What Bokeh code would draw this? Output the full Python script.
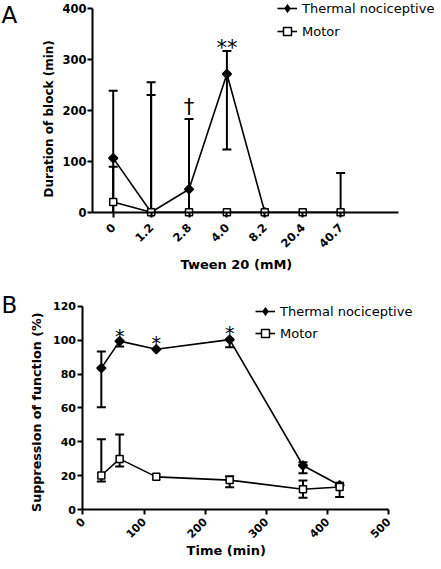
import numpy as np
from bokeh.plotting import figure
from bokeh.layouts import column
from bokeh.models import Range1d, FixedTicker, Legend, LegendItem, Label
from bokeh.core.properties import value
from bokeh.embed import file_html
from bokeh.resources import INLINE

# ---------------- Panel A data ----------------
conc_labels = ["0", "1.2", "2.8", "4.0", "8.2", "20.4", "40.7"]
a_thermal = [106, 0, 45, 271, 0, np.nan, np.nan]
a_thermal_hi = [238, 255, 183, 316, 0, np.nan, np.nan]
a_thermal_lo = [0, 0, 0, 123, 0, np.nan, np.nan]
a_motor = [20, 0, 0, 0, 0, 0, 0]
a_motor_hi = [89, 230, 0, 0, 0, 0, 77]
a_motor_lo = [0, 0, 0, 0, 0, 0, 0]
a_yticks = [0, 100, 200, 300, 400]
a_mark_text = ["\u2020", "**"]
a_mark_idx = [2, 3]
a_mark_y = [207, 322]

# ---------------- Panel B data ----------------
times = [30, 60, 120, 240, 360, 420]
b_thermal = [83.5, 99.4, 94.6, 100.3, 26.1, 14.5]
b_thermal_hi = [93.3, 99.4, 94.6, 100.3, 28.0, 14.5]
b_thermal_lo = [60.5, 96.2, 94.6, 95.8, 21.6, 14.5]
b_motor = [20.2, 30.0, 19.4, 17.5, 12.1, 13.4]
b_motor_hi = [41.5, 44.4, 19.4, 19.8, 17.3, 16.0]
b_motor_lo = [16.7, 25.5, 19.4, 13.3, 7.1, 7.6]
b_xticks = [0, 100, 200, 300, 400, 500]
b_yticks = [0, 20, 40, 60, 80, 100, 120]
b_star_t = [60, 120, 240]
b_star_y = [102.5, 98.5, 104.0]

FONT = "DejaVu Sans"


def style_axes(p, tick_size):
    for ax in (p.xaxis[0], p.yaxis[0]):
        ax.axis_line_width = 2
        ax.major_tick_line_width = 2
        ax.major_tick_out = 5
        ax.major_tick_in = 0
        ax.minor_tick_line_color = None
        ax.major_label_text_font = FONT
        ax.major_label_text_font_style = "bold"
        ax.major_label_text_font_size = tick_size
        ax.major_label_text_color = "black"
    p.xgrid.visible = False
    p.ygrid.visible = False
    p.outline_line_color = None


def title_text(p, x, y, text, size, angle=0.0):
    p.text(x=[x], y=[y], text=[text], angle=angle, text_font=value(FONT),
           text_font_style="bold", text_font_size=size, text_align="center",
           text_baseline="middle", text_color="black")


def error_bars(p, x, mean, hi, lo, cap=9):
    x = np.asarray(x, float)
    mean = np.asarray(mean, float)
    hi = np.asarray(hi, float)
    lo = np.asarray(lo, float)
    p.segment(x0=x, y0=lo, x1=x, y1=hi, line_color="black", line_width=2)
    with np.errstate(invalid="ignore"):
        cap_hi = np.where(hi > mean, hi, np.nan)
        cap_lo = np.where((lo < mean) & (lo > 0), lo, np.nan)
    p.scatter(x=x, y=cap_hi, marker="dash", size=cap, line_color="black", line_width=2)
    p.scatter(x=x, y=cap_lo, marker="dash", size=cap, line_color="black", line_width=2)


def series(p, x, y, marker, fill, size, angle=0.0):
    lr = p.line(x=x, y=y, line_color="black", line_width=1.6)
    mr = p.scatter(x=x, y=y, marker=marker, size=size, angle=angle,
                   fill_color=fill, line_color="black", line_width=1.5)
    return lr, mr


def make_legend(p, rend_t, rend_m, loc, spacing):
    # legend swatch for the diamond (swatches are drawn unrotated); not plotted
    diamond = p.scatter(x=[np.nan], y=[np.nan], marker="diamond", size=9,
                        fill_color="black", line_color="black", line_width=1)
    leg = Legend(items=[LegendItem(label="Thermal nociceptive", renderers=[rend_t, diamond]),
                        LegendItem(label="Motor", renderers=list(rend_m))],
                 location=loc, padding=0, margin=0, spacing=spacing,
                 glyph_width=20, glyph_height=22, label_height=22, label_standoff=5,
                 label_text_font=FONT, label_text_font_size="13px",
                 label_text_color="black",
                 border_line_color=None, background_fill_alpha=0)
    p.add_layout(leg)


# ---------------- Panel A ----------------
idx = list(range(len(conc_labels)))
pA = figure(width=441, height=290, output_backend="svg", toolbar_location=None,
            x_range=Range1d(-2.974, 8.662), y_range=Range1d(-153.5, 415.1),
            min_border=0, min_border_left=0, min_border_right=0,
            min_border_top=0, min_border_bottom=0)
style_axes(pA, "11.5px")
xa, ya = pA.xaxis[0], pA.yaxis[0]
xa.ticker = FixedTicker(ticks=idx)
xa.major_label_overrides = {i: s for i, s in zip(idx, conc_labels)}
xa.major_label_orientation = np.pi / 4
xa.major_label_standoff = 8
xa.fixed_location = 0
xa.bounds = (-0.546, 7.535)
ya.ticker = FixedTicker(ticks=a_yticks)
ya.major_label_standoff = 1
ya.fixed_location = -0.546
ya.bounds = (0, 400)

error_bars(pA, idx, a_thermal, a_thermal_hi, a_thermal_lo)
error_bars(pA, idx, a_motor, a_motor_hi, a_motor_lo)
tA_line, tA_mark = series(pA, idx, a_thermal, "square", "black", 6.3, np.pi / 4)
mA_line, mA_mark = series(pA, idx, a_motor, "square", "white", 7)
pA.text(x=a_mark_idx, y=a_mark_y, text=a_mark_text, text_font=value(FONT),
        text_font_size="21px", text_align="center", text_baseline="alphabetic",
        text_color="black")
title_text(pA, 3.25, -102.5, "Tween 20 (mM)", "13px")
title_text(pA, -1.694, 183, "Duration of block (min)", "12px", np.pi / 2)
make_legend(pA, tA_line, (mA_line, mA_mark), (277, 248), 1)
pA.add_layout(Label(x=1, y=289, x_units="screen", y_units="screen", text="A",
                    text_font=FONT, text_font_size="23px", text_baseline="top",
                    text_color="black"))

# ---------------- Panel B ----------------
pB = figure(width=441, height=279, output_backend="svg", toolbar_location=None,
            x_range=Range1d(-135.0, 586.7), y_range=Range1d(-35.2, 129.25),
            min_border=0, min_border_left=0, min_border_right=0,
            min_border_top=0, min_border_bottom=0)
style_axes(pB, "11px")
xb, yb = pB.xaxis[0], pB.yaxis[0]
xb.ticker = FixedTicker(ticks=b_xticks)
xb.major_label_orientation = np.pi / 4
xb.major_label_standoff = 5
xb.fixed_location = 0
xb.bounds = (0, 500)
yb.ticker = FixedTicker(ticks=b_yticks)
yb.major_label_standoff = 2
yb.fixed_location = 0
yb.bounds = (0, 120)

error_bars(pB, times, b_thermal, b_thermal_hi, b_thermal_lo)
error_bars(pB, times, b_motor, b_motor_hi, b_motor_lo)
tB_line, tB_mark = series(pB, times, b_thermal, "square", "black", 6.3, np.pi / 4)
mB_line, mB_mark = series(pB, times, b_motor, "square", "white", 7)
pB.text(x=b_star_t, y=b_star_y, text=["*"] * len(b_star_t), text_font=value(FONT),
        text_font_size="19px", text_align="center", text_baseline="alphabetic",
        text_color="black")
title_text(pB, 234.5, -24, "Time (min)", "13px")
title_text(pB, -76, 57.5, "Suppression of function (%)", "12.7px", np.pi / 2)
make_legend(pB, tB_line, (mB_line, mB_mark), (255, 225), 0)
pB.add_layout(Label(x=1, y=278, x_units="screen", y_units="screen", text="B",
                    text_font=FONT, text_font_size="23px", text_baseline="top",
                    text_color="black"))

layout = column(pA, pB, spacing=0)
open("out.html", "w").write(file_html(layout, INLINE))
